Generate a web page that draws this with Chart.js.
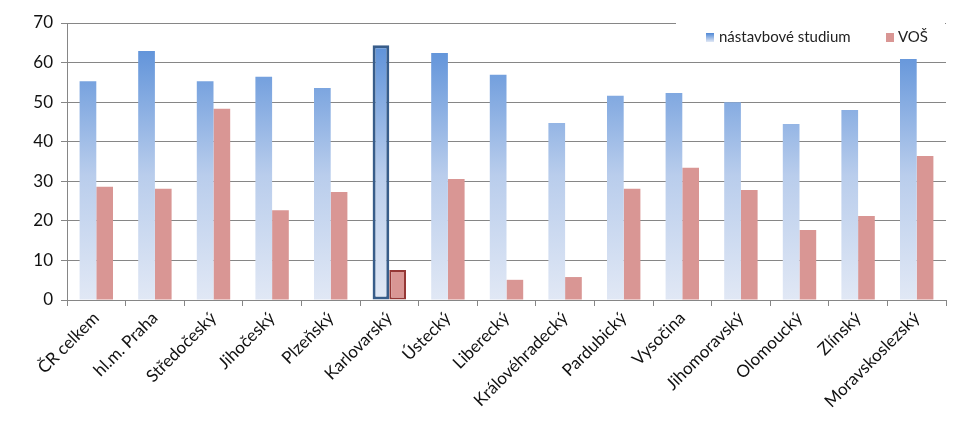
<!DOCTYPE html>
<html>
<head>
<meta charset="utf-8">
<script src="https://cdn.jsdelivr.net/npm/chart.js@4/dist/chart.umd.min.js"></script>
<style>
  html, body { margin: 0; padding: 0; background: #fff; }
  #wrap { width: 961px; height: 436px; position: relative; }
</style>
</head>
<body>
<div id="wrap"><canvas id="chart"></canvas></div>
<script>
// regions (categories)
const regions = ["ČR celkem", "hl.m. Praha", "Středočeský", "Jihočeský", "Plzeňský", "Karlovarský",
  "Ústecký", "Liberecký", "Královéhradecký", "Pardubický", "Vysočina", "Jihomoravský",
  "Olomoucký", "Zlínský", "Moravskoslezský"];
// values
const nastavboveStudium = [55.3, 62.9, 55.3, 56.4, 53.6, 64.4, 62.4, 56.9, 44.7, 51.6, 52.3, 50.0, 44.5, 48.0, 60.9];
const vos = [28.6, 28.1, 48.3, 22.7, 27.3, 7.6, 30.6, 5.1, 5.8, 28.1, 33.4, 27.8, 17.7, 21.2, 36.4];
const yTicks = [0, 10, 20, 30, 40, 50, 60, 70];
const highlighted = "Karlovarský";

const FONT = "Lato, 'Open Sans', sans-serif";

// blue gradient like the office chart
function blueFill(ctx) {
  const area = ctx.chart.chartArea;
  if (!area) return "#8DB3E2";
  const g = ctx.chart.ctx.createLinearGradient(0, area.top, 0, area.bottom);
  g.addColorStop(0, "#4F88D6");
  g.addColorStop(0.55, "#B9CDEC");
  g.addColorStop(1, "#E1E8F5");
  return g;
}

// legend drawn inside the plot on a white box
const boxLegend = {
  id: "boxLegend",
  afterDraw(chart) {
    const c = chart.ctx;
    const a = chart.chartArea;
    c.save();
    c.fillStyle = "#fff";
    c.fillRect(a.right - 270, a.top - 3, 269, 34);
    c.font = "15px " + FONT;
    c.textBaseline = "middle";
    const y = a.top + 14;
    let x = a.right - 240;
    const g = c.createLinearGradient(0, y - 4, 0, y + 5);
    g.addColorStop(0, "#4F88D6");
    g.addColorStop(1, "#E1E8F5");
    c.fillStyle = g;
    c.fillRect(x, y - 4, 8, 9);
    c.fillStyle = "#222";
    c.fillText(chart.data.datasets[0].label, x + 13, y);
    x = a.right - 60;
    c.fillStyle = "#D99694";
    c.fillRect(x, y - 4, 8, 9);
    c.fillStyle = "#222";
    c.fillText(chart.data.datasets[1].label, x + 12, y);
    c.restore();
  }
};

const chart = new Chart(document.getElementById("chart").getContext("2d"), {
  type: "bar",
  data: {
    labels: regions,
    datasets: [
      {
        label: "nástavbové studium",
        data: nastavboveStudium,
        backgroundColor: blueFill,
        borderColor: regions.map(r => r === highlighted ? "#385D8A" : "rgba(0,0,0,0)"),
        borderWidth: regions.map(r => r === highlighted ? 3 : 0),
        borderSkipped: false
      },
      {
        label: "VOŠ",
        data: vos,
        backgroundColor: "#D99694",
        borderColor: regions.map(r => r === highlighted ? "#953735" : "rgba(0,0,0,0)"),
        borderWidth: regions.map(r => r === highlighted ? 2 : 0),
        borderSkipped: false
      }
    ]
  },
  options: {
    responsive: true,
    maintainAspectRatio: false,
    animation: false,
    layout: { padding: { top: 23, right: 15, left: 0, bottom: 0 } },
    categoryPercentage: 0.57,
    barPercentage: 1,
    plugins: {
      legend: { display: false },
      tooltip: { enabled: false }
    },
    scales: {
      x: {
        offset: true,
        grid: {
          offset: true,
          drawOnChartArea: false,
          drawTicks: true,
          tickLength: 6,
          color: "#868686"
        },
        border: { color: "#868686", width: 1 },
        ticks: {
          autoSkip: false,
          maxRotation: 45,
          minRotation: 45,
          color: "#111",
          font: { family: FONT, size: 17 },
          padding: 2
        },
        afterFit: (s) => { s.height = 136; }
      },
      y: {
        min: 0,
        max: 70,
        afterBuildTicks: (s) => { s.ticks = yTicks.map(v => ({ value: v })); },
        grid: { color: "#868686", tickLength: 6 },
        border: { color: "#868686", width: 1 },
        ticks: {
          color: "#111",
          font: { family: FONT, size: 17 },
          padding: 8
        },
        afterFit: (s) => { s.width = 67; }
      }
    }
  },
  plugins: [boxLegend]
});
</script>
</body>
</html>
